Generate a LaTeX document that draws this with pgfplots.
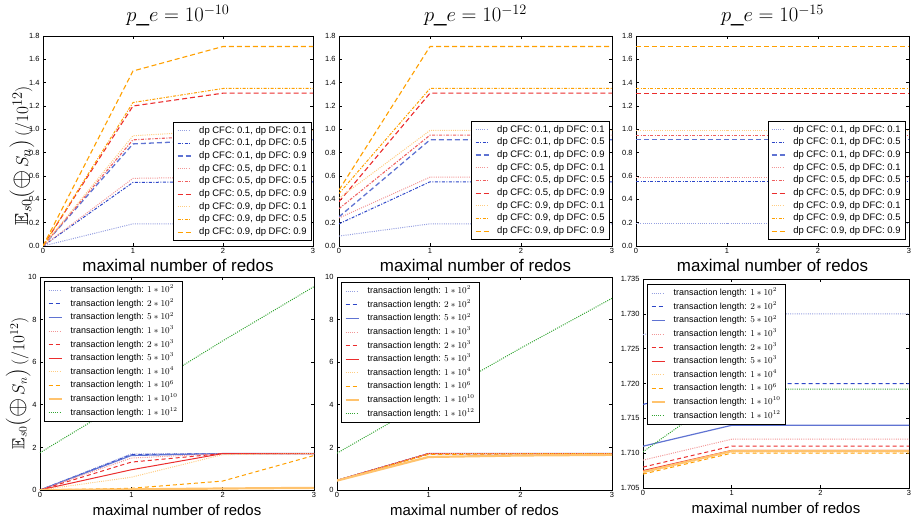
\documentclass[border=0pt]{standalone}
\usepackage{fontspec}
\setmainfont{Liberation Sans}
\usepackage{amsmath,amssymb}
\usepackage{pgfplots}
\usepackage{pgfplotstable}
\pgfplotsset{compat=1.18}
\definecolor{mblue}{RGB}{45,70,200}
\definecolor{mblueA}{RGB}{150,160,225}
\definecolor{mblueB}{RGB}{95,115,210}
\definecolor{mred}{RGB}{235,45,45}
\definecolor{mredA}{RGB}{242,150,150}
\definecolor{mredB}{RGB}{238,95,95}
\definecolor{morange}{RGB}{255,160,0}
\definecolor{morangeA}{RGB}{255,205,130}
\definecolor{morangeB}{RGB}{255,195,110}
\definecolor{mgreen}{RGB}{50,165,50}

\pgfplotstableread{
x s1 s2 s3 s4 s5 s6 s7 s8 s9
0 0.00 0.00 0.00 0.00 0.00 0.00 0.00 0.00 0.00
1 0.19 0.545 0.875 0.58 0.91 1.20 0.945 1.23 1.50
2 0.19 0.55 0.91 0.59 0.95 1.31 0.99 1.35 1.71
3 0.19 0.55 0.91 0.59 0.95 1.31 0.99 1.35 1.71
}\tA
\pgfplotstableread{
x s1 s2 s3 s4 s5 s6 s7 s8 s9
0 0.085 0.19 0.25 0.24 0.32 0.38 0.41 0.45 0.48
1 0.19 0.55 0.91 0.59 0.95 1.31 0.99 1.35 1.71
2 0.19 0.55 0.91 0.59 0.95 1.31 0.99 1.35 1.71
3 0.19 0.55 0.91 0.59 0.95 1.31 0.99 1.35 1.71
}\tB
\pgfplotstableread{
x s1 s2 s3 s4 s5 s6 s7 s8 s9
0 0.19 0.55 0.91 0.59 0.95 1.31 0.99 1.35 1.71
1 0.19 0.55 0.91 0.59 0.95 1.31 0.99 1.35 1.71
2 0.19 0.55 0.91 0.59 0.95 1.31 0.99 1.35 1.71
3 0.19 0.55 0.91 0.59 0.95 1.31 0.99 1.35 1.71
}\tC
\pgfplotstableread{
x b1 b2 b3 b4 b5 b6 b7 b8 b9 b10
0 0.00 0.00 0.00 0.00 0.00 0.00 0.00 0.00 0.00 1.75
1 1.70 1.66 1.62 1.50 1.31 0.95 0.60 0.08 0.03 4.35
2 1.71 1.71 1.71 1.71 1.71 1.71 1.66 0.42 0.07 7.00
3 1.71 1.71 1.71 1.71 1.71 1.71 1.71 1.62 0.10 9.55
}\tD
\pgfplotstableread{
x b1 b2 b3 b4 b5 b6 b7 b8 b9 b10
0 0.45 0.45 0.45 0.45 0.45 0.45 0.45 0.44 0.44 1.73
1 1.71 1.71 1.71 1.71 1.71 1.71 1.70 1.67 1.55 4.20
2 1.71 1.71 1.71 1.71 1.71 1.71 1.71 1.69 1.62 6.65
3 1.71 1.71 1.71 1.71 1.71 1.71 1.71 1.70 1.65 9.00
}\tE
\pgfplotstableread{
x b1 b2 b3 b4 b5 b6 b7 b8 b9 b10
0 1.7270 1.7170 1.7110 1.7090 1.7080 1.7075 1.7072 1.7070 1.7073 1.7102
1 1.7300 1.7200 1.7140 1.7120 1.7110 1.7104 1.7102 1.7100 1.7103 1.7192
2 1.7300 1.7200 1.7140 1.7120 1.7110 1.7104 1.7102 1.7100 1.7103 1.7192
3 1.7300 1.7200 1.7140 1.7120 1.7110 1.7104 1.7102 1.7100 1.7103 1.7192
}\tF

\pgfplotsset{
  base/.style={scale only axis, anchor=south west, xmin=0, xmax=3, xtick={0,1,2,3},
    tick align=inside, major tick length=3bp,
    axis line style={line width=0.8bp},
    every tick/.style={draw=black, line width=0.6bp},
    tick label style={font=\fontsize{7.5}{9}\selectfont},
    xticklabel style={yshift=1bp},
    /pgf/number format/assume math mode=true,
    legend cell align=left,
    legend image code/.code={\draw[##1] (0bp,0bp) -- (13bp,0bp);},
    legend style={draw=black, line width=0.9bp, fill=white, inner xsep=3bp, inner ysep=2bp,
      column sep=6bp, nodes={inner xsep=2bp, inner ysep=2.3bp, text height=6.5bp, text depth=1.6bp}},
    every axis plot/.append style={line width=1bp},
  },
  toprow/.style={base, ymin=0, ymax=1.8, ytick={0,0.2,0.4,0.6,0.8,1.0,1.2,1.4,1.6,1.8},
    yticklabel style={/pgf/number format/.cd, fixed, fixed zerofill, precision=1},
    height=210bp,
    xlabel={maximal number of redos},
    xlabel style={font=\fontsize{17}{20}\selectfont, at={(0.5,0)}, anchor=base, yshift=-26bp},
    title style={font=\fontsize{22.5}{26}\selectfont, at={(0.5,1)}, anchor=base, yshift=8.5bp},
    legend style={at={(1,0)}, anchor=south east, font=\fontsize{9.5}{10}\selectfont},
  },
  botrow/.style={base,
    xlabel={maximal number of redos},
    xlabel style={font=\fontsize{15}{18}\selectfont, at={(0.5,0)}, anchor=base, yshift=-25bp},
    legend style={at={(0,1)}, anchor=north west, font=\fontsize{9}{10}\selectfont,
      nodes={inner ysep=2.2bp, text height=7bp, text depth=2.2bp}},
  },
  t1/.style={draw=mblueA, dash pattern=on 1bp off 1.2bp},
  t2/.style={draw=mblue, dash pattern=on 3bp off 1.5bp on 1bp off 1.5bp},
  t3/.style={draw=mblueB, line width=1.3bp, dash pattern=on 5bp off 3bp},
  t4/.style={draw=mredA, dash pattern=on 1bp off 1.2bp},
  t5/.style={draw=mredB, line width=1.1bp, dash pattern=on 3bp off 1.5bp on 1bp off 1.5bp},
  t6/.style={draw=mred, line width=1.1bp, dash pattern=on 5bp off 3bp},
  t7/.style={draw=morangeA, dash pattern=on 1bp off 1.2bp},
  t8/.style={draw=morange, dash pattern=on 3bp off 1.5bp on 1bp off 1.5bp},
  t9/.style={draw=morange, line width=1.1bp, dash pattern=on 5bp off 3bp},
  b1/.style={draw=mblueA, dash pattern=on 1bp off 1.2bp},
  b2/.style={draw=mblue, dash pattern=on 4bp off 3bp},
  b3/.style={draw=mblueB, line width=1.2bp},
  b4/.style={draw=mredA, dash pattern=on 1bp off 1.2bp},
  b5/.style={draw=mred, dash pattern=on 4bp off 3bp},
  b6/.style={draw=mred},
  b7/.style={draw=morangeA, dash pattern=on 1bp off 1.2bp},
  b8/.style={draw=morange, dash pattern=on 4bp off 3bp},
  b9/.style={draw=morangeB, line width=2.2bp},
  b10/.style={draw=mgreen, dash pattern=on 1bp off 1.2bp},
}

\newcommand{\topplots}[1]{%
  \addplot[t1] table[x=x,y=s1]{#1}; \addlegendentry{dp CFC: 0.1, dp DFC: 0.1}
  \addplot[t2] table[x=x,y=s2]{#1}; \addlegendentry{dp CFC: 0.1, dp DFC: 0.5}
  \addplot[t3] table[x=x,y=s3]{#1}; \addlegendentry{dp CFC: 0.1, dp DFC: 0.9}
  \addplot[t4] table[x=x,y=s4]{#1}; \addlegendentry{dp CFC: 0.5, dp DFC: 0.1}
  \addplot[t5] table[x=x,y=s5]{#1}; \addlegendentry{dp CFC: 0.5, dp DFC: 0.5}
  \addplot[t6] table[x=x,y=s6]{#1}; \addlegendentry{dp CFC: 0.5, dp DFC: 0.9}
  \addplot[t7] table[x=x,y=s7]{#1}; \addlegendentry{dp CFC: 0.9, dp DFC: 0.1}
  \addplot[t8] table[x=x,y=s8]{#1}; \addlegendentry{dp CFC: 0.9, dp DFC: 0.5}
  \addplot[t9] table[x=x,y=s9]{#1}; \addlegendentry{dp CFC: 0.9, dp DFC: 0.9}
}
\newcommand{\botplots}[1]{%
  \addplot[b1] table[x=x,y=b1]{#1}; \addlegendentry{transaction length: $1*10^{2}$}
  \addplot[b2] table[x=x,y=b2]{#1}; \addlegendentry{transaction length: $2*10^{2}$}
  \addplot[b3] table[x=x,y=b3]{#1}; \addlegendentry{transaction length: $5*10^{2}$}
  \addplot[b4] table[x=x,y=b4]{#1}; \addlegendentry{transaction length: $1*10^{3}$}
  \addplot[b5] table[x=x,y=b5]{#1}; \addlegendentry{transaction length: $2*10^{3}$}
  \addplot[b6] table[x=x,y=b6]{#1}; \addlegendentry{transaction length: $5*10^{3}$}
  \addplot[b7] table[x=x,y=b7]{#1}; \addlegendentry{transaction length: $1*10^{4}$}
  \addplot[b8] table[x=x,y=b8]{#1}; \addlegendentry{transaction length: $1*10^{6}$}
  \addplot[b9] table[x=x,y=b9]{#1}; \addlegendentry{transaction length: $1*10^{10}$}
  \addplot[b10] table[x=x,y=b10]{#1}; \addlegendentry{transaction length: $1*10^{12}$}
}
% #1: size of the large parentheses and the circled plus
\newcommand{\ylab}[1]{$\mathbb{E}_{s0}$\mbox{\fontsize{#1}{#1}\selectfont$(\oplus$}$\,S_n$\mbox{\fontsize{#1}{#1}\selectfont$)$}\,$(/10^{12})$}

\begin{document}
\begin{tikzpicture}
\path[use as bounding box] (0bp,0bp) rectangle (912bp,519bp);

\begin{axis}[toprow, at={(43bp,273bp)}, width=270bp,
  title={$p\_e = 10^{-10}$},
  ylabel={\ylab{25}},
  ylabel style={font=\fontsize{19}{23}\selectfont, inner sep=0pt, at={(axis description cs:-0.078,0.43)}, anchor=center},
  legend style={xshift=-1bp, yshift=5bp}]
\topplots{\tA}
\end{axis}

\begin{axis}[toprow, at={(339bp,273bp)}, width=273bp,
  title={$p\_e = 10^{-12}$},
  legend style={xshift=-2bp, yshift=6bp}]
\topplots{\tB}
\end{axis}

\begin{axis}[toprow, at={(636bp,273bp)}, width=273bp,
  title={$p\_e = 10^{-15}$},
  legend style={xshift=-3bp, yshift=6bp}]
\topplots{\tC}
\end{axis}

\begin{axis}[botrow, at={(40bp,29bp)}, width=274bp, height=213bp,
  ymin=0, ymax=10, ytick={0,2,4,6,8,10},
  ylabel={\ylab{23}},
  ylabel style={font=\fontsize{17.5}{21}\selectfont, inner sep=0pt, at={(axis description cs:-0.08,0.5)}, anchor=center},
  legend style={xshift=4bp, yshift=-4bp}]
\botplots{\tD}
\end{axis}

\begin{axis}[botrow, at={(337bp,29bp)}, width=275bp, height=213bp,
  ymin=0, ymax=10, ytick={0,2,4,6,8,10},
  legend style={xshift=4bp, yshift=-5bp}]
\botplots{\tE}
\end{axis}

\begin{axis}[botrow, at={(643bp,31bp)}, width=266bp, height=209bp,
  ymin=1.705, ymax=1.735, ytick={1.705,1.710,1.715,1.720,1.725,1.730,1.735},
  yticklabel style={/pgf/number format/.cd, fixed, fixed zerofill, precision=3},
  legend style={xshift=4bp, yshift=-5bp}]
\botplots{\tF}
\end{axis}
\end{tikzpicture}
\end{document}
